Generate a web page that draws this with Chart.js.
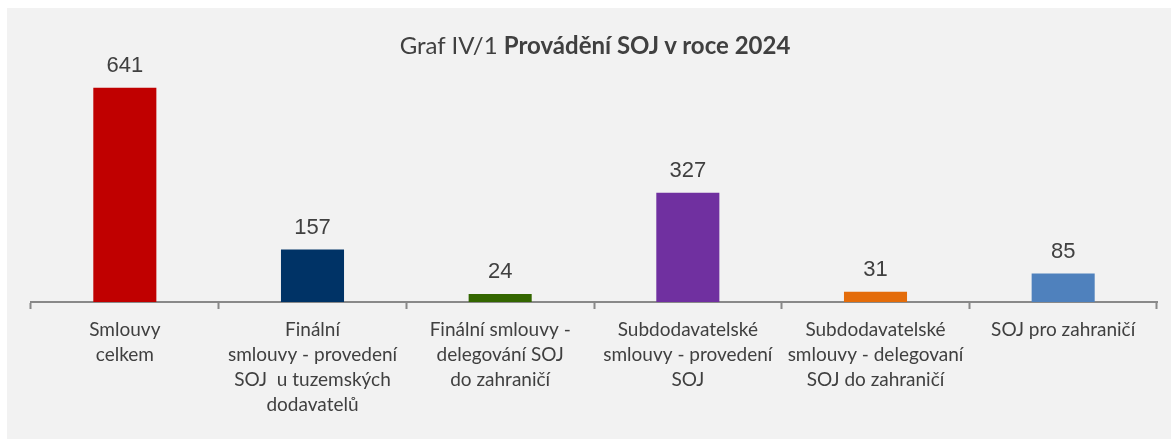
<!DOCTYPE html>
<html>
<head>
<meta charset="utf-8">
<script src="https://cdn.jsdelivr.net/npm/chart.js@4"></script>
<style>
    html, body { margin: 0; padding: 0; background: #fff; overflow: hidden; }
    #wrap { position: relative; width: 1171px; height: 439px; }
    #chart { display: block; }
    #title {
        position: absolute; left: 0; top: 30px; width: 1190px;
        text-align: center; font-family: Lato, sans-serif; font-size: 24px;
        line-height: 29px; color: #404040;
    }
    #title b { font-weight: 700; }
</style>
</head>
<body>
<div id="wrap">
    <canvas id="chart" width="1171" height="439"></canvas>
    <div id="title">Graf IV/1 <b>Provádění SOJ v roce 2024</b></div>
</div>
<script>
const categories = [
    ['Smlouvy', 'celkem'],
    ['Finální', 'smlouvy - provedení', 'SOJ  u tuzemských', 'dodavatelů'],
    ['Finální smlouvy -', 'delegování SOJ', 'do zahraničí'],
    ['Subdodavatelské', 'smlouvy - provedení', 'SOJ'],
    ['Subdodavatelské', 'smlouvy - delegovaní', 'SOJ do zahraničí'],
    'SOJ pro zahraničí'
];
const values = [641, 157, 24, 327, 31, 85];
const barColors = ['#C00000', '#003366', '#336600', '#7030A0', '#E46C0A', '#4F81BD'];

// grey panel behind the chart
const panel = {
    id: 'panel',
    beforeDraw(chart) {
        const c = chart.ctx;
        c.save();
        c.fillStyle = '#F2F2F2';
        c.fillRect(7, 8, chart.width - 7, chart.height - 8);
        c.restore();
    }
};

// value labels above the bars
const valueLabels = {
    id: 'valueLabels',
    afterDatasetsDraw(chart) {
        const c = chart.ctx;
        const meta = chart.getDatasetMeta(0);
        c.save();
        c.font = '22px "Liberation Sans", Arial, sans-serif';
        c.fillStyle = '#404040';
        c.textAlign = 'center';
        c.textBaseline = 'alphabetic';
        meta.data.forEach((bar, i) => {
            c.fillText(values[i], bar.x, bar.y - 16);
        });
        c.restore();
    }
};

new Chart(document.getElementById('chart'), {
    type: 'bar',
    data: {
        labels: categories,
        datasets: [{
            data: values,
            backgroundColor: barColors,
            categoryPercentage: 1,
            barPercentage: 0.336
        }]
    },
    options: {
        responsive: false,
        animation: false,
        layout: { padding: { left: 31, right: 14, top: 68, bottom: 0 } },
        plugins: {
            legend: { display: false },
            tooltip: { enabled: false }
        },
        scales: {
            x: {
                afterFit: s => { s.height = 137; },
                grid: {
                    drawOnChartArea: false,
                    tickLength: 7,
                    tickWidth: 2,
                    tickColor: '#898989'
                },
                border: { color: '#898989', width: 2 },
                ticks: {
                    autoSkip: false,
                    maxRotation: 0,
                    padding: 9,
                    color: '#404040',
                    font: { family: 'Lato', size: 19, lineHeight: 1.3 }
                }
            },
            y: {
                display: false,
                min: 0,
                max: 700
            }
        }
    },
    plugins: [panel, valueLabels]
});
</script>
</body>
</html>
